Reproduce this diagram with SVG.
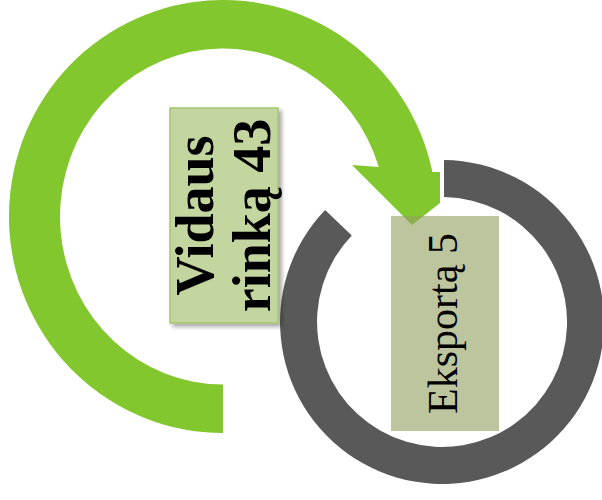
<svg xmlns="http://www.w3.org/2000/svg" width="602" height="500" viewBox="0 0 602 500">
  <defs>
    <filter id="shadow" x="-20%" y="-20%" width="150%" height="150%">
      <feDropShadow dx="3" dy="3" stdDeviation="2" flood-color="#000" flood-opacity="0.35"/>
    </filter>
  </defs>
  <style>
    .green { fill: #83C72E; }
    .gray { fill: #595959; }
    .box1 { fill: #C3D69F; stroke: #A5C46E; stroke-width: 1.5; }
    .box2 { fill: #919F5D; fill-opacity: 0.6; }
    .lbl { font-family: "Liberation Serif", "Times New Roman", serif; fill: #000; text-anchor: middle; }
    .bold { font-weight: bold; font-size: 54px; }
    .reg { font-size: 42px; }
  </style>
  <rect width="602" height="500" fill="#fff"/>
  <g id="connectors">
    <path id="green-arrow" class="green" d="M 223 433 A 214 216.5 0 1 1 432.4 172 L 440 172 L 440 203 L 412 225 L 352 165 L 378.8 167 A 163 168 0 1 0 223 384.5 Z"/>
    <path id="gray-arc" class="gray" d="M 444 160 A 162 162 0 1 1 325.1 209.9 L 351.8 235.5 A 125 125 0 1 0 444 197 Z"/>
  </g>
  <g id="vidaus">
    <rect class="box1" x="170" y="108" width="108" height="215" filter="url(#shadow)"/>
    <text class="lbl bold" transform="translate(213,215.5) rotate(-90)">Vidaus</text>
    <text class="lbl bold" transform="translate(270,215.5) rotate(-90)">rinką 43</text>
  </g>
  <g id="eksporta">
    <rect class="box2" x="391" y="216" width="108" height="215"/>
    <text class="lbl reg" transform="translate(457,323.5) rotate(-90)">Eksportą 5</text>
  </g>
</svg>
